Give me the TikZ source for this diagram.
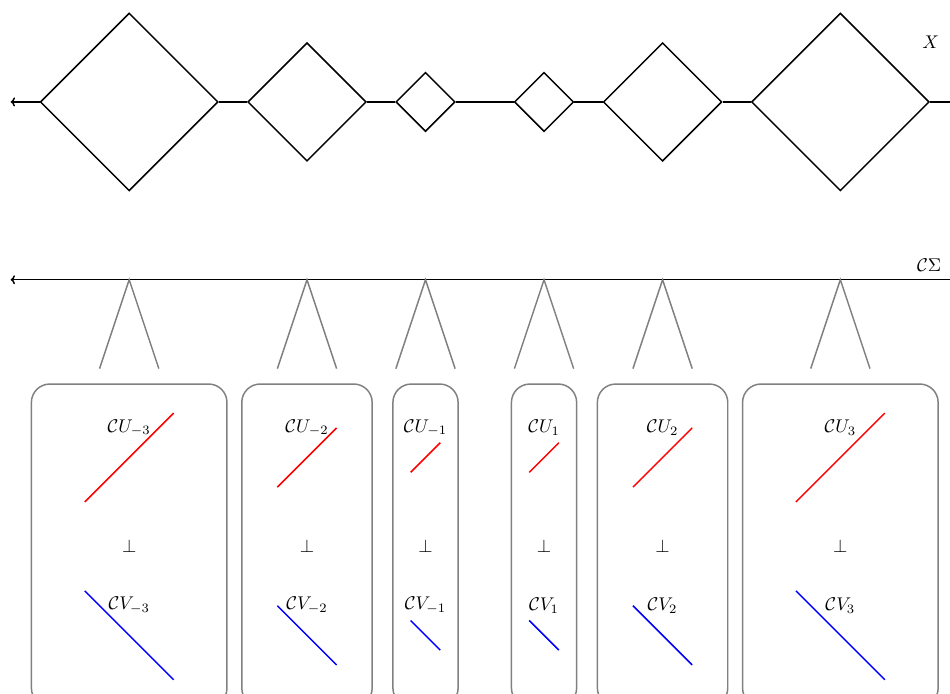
\documentclass[tikz,border=0pt]{standalone}
\usepackage{amsmath}
\usepackage{amssymb}
\usetikzlibrary{shapes.geometric}
\usetikzlibrary{positioning}
\usetikzlibrary{arrows.meta}

\begin{document}
\begin{tikzpicture}[x=0.566cm, y=0.566cm,
    rhomb/.style={diamond, draw, thick, inner sep=0pt, aspect=1},
    gluebox/.style={draw=gray, thick, rounded corners=10pt},
    wedge/.style={draw=gray, thick},
    tip/.style={-{To[scale=0.7]}}]
    \useasboundingbox (-16.36,-19.95) rectangle (15.70,3.44);
    \clip (-16.36,-19.95) rectangle (15.70,3.44);

    % The space X
    \foreach \name/\c/\s in {m3/-12/3, m2/-6/2, m1/-2/1, p1/2/1, p2/6/2, p3/12/3}
      \node[rhomb, minimum size={2*\s*0.566cm}] (d\name) at (\c,0) {};
    \coordinate (xleft) at (-16,0);
    \coordinate (xright) at (16.5,0);
    \draw[thick, tip] (dm3.west) -- (xleft);
    \draw[thick] (dm3.east) -- (dm2.west);
    \draw[thick] (dm2.east) -- (dm1.west);
    \draw[thick] (dm1.east) -- (dp1.west);
    \draw[thick] (dp1.east) -- (dp2.west);
    \draw[thick] (dp2.east) -- (dp3.west);
    \draw[thick] (dp3.east) -- (xright);
    \node (xlabel) at (15.05,2) {$X$};

    % The line C Sigma
    \coordinate (sleft) at (-16,-6);
    \coordinate (sright) at (16.5,-6);
    \draw[thick, tip] (sright) -- (sleft);
    \node (slabel) at (15.0,-5.5) {$\mathcal{C}\Sigma$};

    % Fibres over the points
    \foreach \name/\k/\c/\s in {m3/-3/-12/3, m2/-2/-6/2, m1/-1/-2/1, p1/1/2/1, p2/2/6/2, p3/3/12/3} {
      \coordinate (a\name) at (\c,-6);
      \draw[wedge] ({\c-1},-9) -- (a\name) -- ({\c+1},-9);
      \draw[gluebox] ({\c-1.1*\s},-9.52) rectangle ({\c+1.1*\s},-20.4);
      \draw[red, thick] ({\c-\s/2},{-12-\s/2}) -- ({\c+\s/2},{-12+\s/2});
      \draw[blue, thick] ({\c-\s/2},{-18+\s/2}) -- ({\c+\s/2},{-18-\s/2});
      \node (u\name) at (\c,-11) {$\mathcal{C}U_{\k}$};
      \node (o\name) at (\c,-15) {$\perp$};
      \node (v\name) at (\c,-17) {$\mathcal{C}V_{\k}$};
    }
  \end{tikzpicture}
\end{document}
